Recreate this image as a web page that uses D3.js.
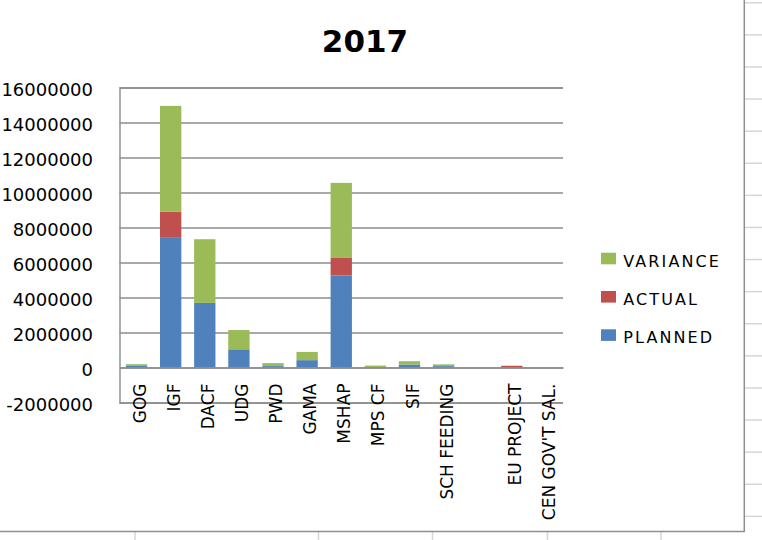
<!DOCTYPE html>
<html>
<head>
<meta charset="utf-8">
<script src="https://cdn.jsdelivr.net/npm/d3@7"></script>
<style>
  html, body { margin: 0; padding: 0; background: #fff; }
  svg { display: block; }
  text { font-family: "DejaVu Sans", sans-serif; fill: #000; }
</style>
</head>
<body>
<svg id="chart" width="762" height="540"></svg>
<script>
// ---- data ----
const title = "2017";
const categories = ["GOG", "IGF", "DACF", "UDG", "PWD", "GAMA", "MSHAP", "MPS CF", "SIF", "SCH FEEDING", "", "EU PROJECT", "CEN GOV'T SAL."];
const planned  = [90000, 7450000, 3690000, 1040000, 80000, 420000, 5260000, 30000, 170000, 80000, 0, 0, 0];
const actual   = [0, 1450000, 0, 0, 0, 0, 1000000, 0, 0, 0, 0, 100000, 0];
const variance = [100000, 6050000, 3640000, 1100000, 170000, 470000, 4290000, 80000, 190000, 100000, 0, 0, 0];
const seriesNames = ["PLANNED", "ACTUAL", "VARIANCE"];
const seriesColors = ["#4f81bd", "#c0504d", "#9bbb59"];
const yTicks = [-2000000, 0, 2000000, 4000000, 6000000, 8000000, 10000000, 12000000, 14000000, 16000000];

// ---- layout ----
const W = 762, H = 540;
const plot = { left: 119.5, right: 563, top: 87.5, bottom: 402.5 };
const svg = d3.select("#chart");

// spreadsheet cell gridlines outside the chart object
const cellLineColor = "#d6d6d6";
const hLines = d3.range(2.75, 540, 32.1);
svg.append("g").selectAll("line").data(hLines).join("line")
  .attr("x1", 745).attr("x2", W).attr("y1", d => d).attr("y2", d => d)
  .attr("stroke", cellLineColor).attr("stroke-width", 1.5);
const vLines = [135, 318.5, 432.5, 547.5, 661];
svg.append("g").selectAll("line").data(vLines).join("line")
  .attr("x1", d => d).attr("x2", d => d).attr("y1", 532).attr("y2", H)
  .attr("stroke", cellLineColor).attr("stroke-width", 1.5);

// chart area border
svg.append("rect").attr("x", -2).attr("y", -2).attr("width", 746.3).attr("height", 533.5)
  .attr("fill", "#fff").attr("stroke", "#8f8f8f").attr("stroke-width", 1.5);

// scales
const x = d3.scaleBand().domain(categories).range([plot.left, plot.right])
  .paddingInner(0.375).paddingOuter(0.1875);
const y = d3.scaleLinear().domain([yTicks[0], yTicks[yTicks.length - 1]]).range([plot.bottom, plot.top]);

// y axis with gridlines
const yAxis = d3.axisLeft(y).tickValues(yTicks)
  .tickSize(-(plot.right - plot.left)).tickPadding(26.5)
  .tickFormat(d => String(d));
const gy = svg.append("g").attr("transform", `translate(${plot.left},0)`).call(yAxis);
gy.select(".domain").attr("stroke", "#8c8c8c").attr("stroke-width", 1.4);
gy.selectAll(".tick line").attr("stroke", "#8c8c8c").attr("stroke-width", 1.3);
gy.selectAll(".tick text").attr("font-size", 18).attr("font-family", "DejaVu Sans, sans-serif")
  .attr("fill", "#000").attr("dy", "0.42em");

// stacked data
const rows = categories.map((c, i) => ({ cat: c, PLANNED: planned[i], ACTUAL: actual[i], VARIANCE: variance[i] }));
const stacked = d3.stack().keys(seriesNames)(rows);

svg.append("g").selectAll("g").data(stacked).join("g")
  .attr("fill", (d, i) => seriesColors[i])
  .selectAll("rect").data(d => d).join("rect")
  .attr("x", (d, i) => x(categories[i]))
  .attr("width", x.bandwidth())
  .attr("y", d => y(d[1]))
  .attr("height", d => Math.max(0, y(d[0]) - y(d[1])));

// category axis at zero
const xAxis = d3.axisBottom(x).tickSize(0).tickSizeOuter(0);
const gx = svg.append("g").attr("transform", `translate(0,${y(0)})`).call(xAxis);
gx.select(".domain").attr("stroke", "#8c8c8c").attr("stroke-width", 1.4);
gx.selectAll(".tick text")
  .attr("font-size", 17).attr("font-family", "DejaVu Sans, sans-serif").attr("fill", "#000")
  .attr("text-anchor", "end")
  .attr("x", 0).attr("y", 0).attr("dy", "0.36em")
  .attr("transform", "translate(3,16) rotate(-90)");

// title
svg.append("text").attr("x", 365).attr("y", 51.5).attr("text-anchor", "middle")
  .attr("font-size", 31).attr("font-weight", "bold").text(title);

// legend (reverse order)
const legendItems = seriesNames.map((n, i) => ({ name: n, color: seriesColors[i] })).reverse();
const lg = svg.append("g").selectAll("g").data(legendItems).join("g")
  .attr("transform", (d, i) => `translate(601,${252.7 + i * 38.3})`);
lg.append("rect").attr("width", 15).attr("height", 11.6).attr("fill", d => d.color);
lg.append("text").attr("x", 22.3).attr("y", 14).attr("font-size", 16)
  .attr("letter-spacing", "2.1px").text(d => d.name);
</script>
</body>
</html>
